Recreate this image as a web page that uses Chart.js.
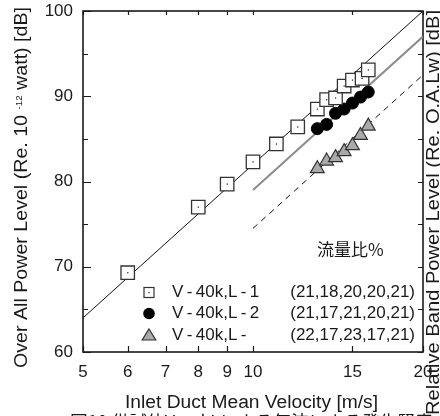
<!DOCTYPE html>
<html><head><meta charset="utf-8">
<script src="https://cdn.jsdelivr.net/npm/chart.js@4/dist/chart.umd.min.js"></script>
<style>html,body{margin:0;padding:0;background:#fff;overflow:hidden}canvas{display:block}</style>
</head><body>
<canvas id="c" width="440" height="416" style="width:440px;height:416px"></canvas>
<script>
// ---- data ----
const velocityL1 = [6, 8, 9, 10, 11, 12, 13, 13.5, 14, 14.5, 15, 15.6, 16];
const powerL1    = [69.3, 77.0, 79.7, 82.3, 84.4, 86.4, 88.5, 89.6, 89.8, 91.2, 91.9, 92.1, 93.1];
const velocityL2 = [13.0, 13.5, 14.0, 14.5, 15.0, 15.5, 16.0];
const powerL2    = [86.2, 86.7, 88.0, 88.5, 89.2, 89.9, 90.5];
const velocityL3 = [13.0, 13.5, 14.0, 14.5, 15.0, 15.5, 16.0];
const powerL3    = [81.5, 82.4, 82.8, 83.5, 84.2, 85.4, 86.5];
const fitAllX  = [5, 20];   const fitAllY  = [64, 100];
const fitGrayX = [10, 20];  const fitGrayY = [79, 97];
const fitDashX = [10, 20];  const fitDashY = [74.5, 92.5];
const xTicks = [5, 6, 7, 8, 9, 10, 15, 20];
const yTicks = [60, 70, 80, 90, 100];
const yMinorTicks = [65, 75, 85, 95];
const legendNames = ['V-40k,L-1', 'V-40k,L-2', 'V-40k,L-'];
const flowRatios = ['(21,18,20,20,21)', '(21,17,21,20,21)', '(22,17,23,17,21)'];
const flowTitle = '流量比%';
const xTitle = 'Inlet Duct Mean Velocity [m/s]';
const yTitleParts = ['Over All Power Level (Re. 10 ', '-12', ' watt) [dB]'];
const y2Title = 'Relative Band Power Level (Re. O.A.Lw) [dB]';
const caption = '図10 供試体V-40kLによる気流による発生騒音';

const pts = (xs, ys) => xs.map((x, i) => ({x, y: ys[i]}));
const FONT = "'Liberation Sans', Arial, sans-serif";
const INK = '#1a1a1a';

const decor = {
  id: 'decor',
  beforeDatasetsDraw(chart) {
    const {ctx, chartArea: a, scales} = chart;
    ctx.save();
    ctx.strokeStyle = INK; ctx.lineWidth = 1.2;
    ctx.beginPath();
    xTicks.forEach(v => {
      const px = Math.round(scales.x.getPixelForValue(v)) + 0.5;
      ctx.moveTo(px, a.bottom); ctx.lineTo(px, a.bottom - 6);
      ctx.moveTo(px, a.top); ctx.lineTo(px, a.top + 4);
    });
    yTicks.forEach(v => {
      const py = Math.round(scales.y.getPixelForValue(v)) + 0.5;
      ctx.moveTo(a.left, py); ctx.lineTo(a.left + 8, py);
      ctx.moveTo(a.right, py); ctx.lineTo(a.right - 5, py);
    });
    yMinorTicks.forEach(v => {
      const py = Math.round(scales.y.getPixelForValue(v)) + 0.5;
      ctx.moveTo(a.left, py); ctx.lineTo(a.left + 5, py);
      ctx.moveTo(a.right, py); ctx.lineTo(a.right - 5, py);
    });
    ctx.stroke();
    ctx.lineWidth = 1.6;
    ctx.strokeRect(a.left, a.top, a.right - a.left, a.bottom - a.top);
    ctx.restore();
  },
  afterDatasetsDraw(chart) {
    const {ctx} = chart;
    ctx.save();
    ctx.fillStyle = '#333';
    chart.getDatasetMeta(3).data.forEach(el => ctx.fillRect(el.x - 0.6, el.y - 0.6, 1.3, 1.3));
    ctx.restore();
  },
  afterDraw(chart) {
    const {ctx} = chart;
    ctx.save();
    ctx.fillStyle = INK;
    ctx.font = '18px ' + FONT;
    ctx.textBaseline = 'alphabetic';
    let w = ctx.measureText(xTitle).width;
    ctx.save(); ctx.translate(125, 408); ctx.scale(253 / w, 1); ctx.textAlign = 'left'; ctx.fillText(xTitle, 0, 0); ctx.restore();
    ctx.save();
    ctx.translate(27, 368); ctx.rotate(-Math.PI / 2);
    const sizes = [18, 9, 18], dys = [0, -5, 0];
    let tot = 0;
    yTitleParts.forEach((t, i) => { ctx.font = sizes[i] + 'px ' + FONT; tot += ctx.measureText(t).width; });
    ctx.scale(361 / tot, 1);
    let cx = 0; ctx.textAlign = 'left';
    yTitleParts.forEach((t, i) => { ctx.font = sizes[i] + 'px ' + FONT; ctx.fillText(t, cx, dys[i]); cx += ctx.measureText(t).width; });
    ctx.restore();
    ctx.save();
    ctx.translate(439, 415); ctx.rotate(-Math.PI / 2);
    ctx.font = '18px ' + FONT; ctx.textAlign = 'left';
    w = ctx.measureText(y2Title).width;
    ctx.scale(405 / w, 1);
    ctx.fillText(y2Title, 0, 0);
    ctx.restore();
    ctx.save();
    ctx.font = "17px 'Noto Sans CJK JP', sans-serif"; ctx.textBaseline = 'alphabetic'; ctx.textAlign = 'left';
    w = ctx.measureText(caption).width;
    ctx.translate(70, 427.5); ctx.scale(363 / w, 1);
    ctx.fillText(caption, 0, 0);
    ctx.restore();
    ctx.font = "17px 'Noto Sans CJK JP', sans-serif"; ctx.textBaseline = 'middle'; ctx.textAlign = 'left';
    ctx.fillText(flowTitle, 317, 250);
    const rows = [292.5, 313.5, 335];
    ctx.font = '17px ' + FONT;
    rows.forEach((ry, i) => {
      ctx.textAlign = 'left'; ctx.fillStyle = INK;
      ctx.fillText(legendNames[i].replace(/-/g, '\u2009-\u2009'), 172, ry);
      ctx.textAlign = 'right';
      ctx.fillText(flowRatios[i], 415, ry);
    });
    const mx = 149;
    ctx.lineWidth = 1.2; ctx.strokeStyle = '#333';
    ctx.fillStyle = '#fff';
    ctx.fillRect(mx - 5, rows[0] - 5, 10, 10); ctx.strokeRect(mx - 5, rows[0] - 5, 10, 10);
    ctx.fillStyle = '#333'; ctx.fillRect(mx - 0.6, rows[0] - 0.6, 1.3, 1.3);
    ctx.fillStyle = '#000';
    ctx.beginPath(); ctx.arc(mx, rows[1], 5.8, 0, Math.PI * 2); ctx.fill();
    ctx.fillStyle = '#aaa';
    ctx.beginPath(); ctx.moveTo(mx, rows[2] - 6); ctx.lineTo(mx + 6.8, rows[2] + 5); ctx.lineTo(mx - 6.8, rows[2] + 5); ctx.closePath();
    ctx.fill(); ctx.stroke();
    ctx.restore();
  }
};

const noPad = s => { s.paddingTop = 0; s.paddingBottom = 0; s.paddingLeft = 0; s.paddingRight = 0; };

new Chart(document.getElementById('c'), {
  type: 'scatter',
  data: {
    datasets: [
      {type: 'line', data: pts(fitAllX, fitAllY), borderColor: '#111', borderWidth: 1, pointRadius: 0, order: 5},
      {type: 'line', data: pts(fitGrayX, fitGrayY), borderColor: '#8c8c8c', borderWidth: 2, pointRadius: 0, order: 5},
      {type: 'line', data: pts(fitDashX, fitDashY), borderColor: '#111', borderWidth: 1, borderDash: [6, 5], pointRadius: 0, order: 5},
      {data: pts(velocityL1, powerL1), pointStyle: 'rect', pointRadius: 9.5, backgroundColor: '#fff', borderColor: '#333', borderWidth: 1.3, order: 1},
      {data: pts(velocityL2, powerL2), pointStyle: 'circle', pointRadius: 6, backgroundColor: '#000', borderColor: '#000', borderWidth: 1, order: 1},
      {data: pts(velocityL3, powerL3), pointStyle: 'triangle', pointRadius: 8, backgroundColor: '#aaa', borderColor: '#333', borderWidth: 1.2, order: 1}
    ]
  },
  options: {
    responsive: false, animation: false, devicePixelRatio: 1,
    layout: {padding: {top: 11, left: 0, right: 0, bottom: 0}},
    plugins: {legend: {display: false}, tooltip: {enabled: false}},
    scales: {
      x: {
        type: 'logarithmic', position: 'bottom', min: 5, max: 20,
        afterBuildTicks: s => { s.ticks = xTicks.map(v => ({value: v})); },
        afterFit: s => { s.height = 64; noPad(s); },
        ticks: {callback: v => String(v), autoSkip: false, maxRotation: 0, font: {family: FONT, size: 17}, color: INK, padding: 10},
        grid: {display: false, drawTicks: false}, border: {display: false}
      },
      y: {
        position: 'left', min: 60, max: 100,
        afterBuildTicks: s => { s.ticks = yTicks.map(v => ({value: v})); },
        afterFit: s => { s.width = 83; noPad(s); },
        ticks: {font: {family: FONT, size: 17}, color: INK, padding: 10},
        grid: {display: false, drawTicks: false}, border: {display: false}
      },
      y2: {
        position: 'right', min: 60, max: 100, display: true,
        afterFit: s => { s.width = 17; noPad(s); },
        ticks: {display: false},
        grid: {display: false, drawTicks: false}, border: {display: false}
      }
    }
  },
  plugins: [decor]
});
</script>
</body></html>
